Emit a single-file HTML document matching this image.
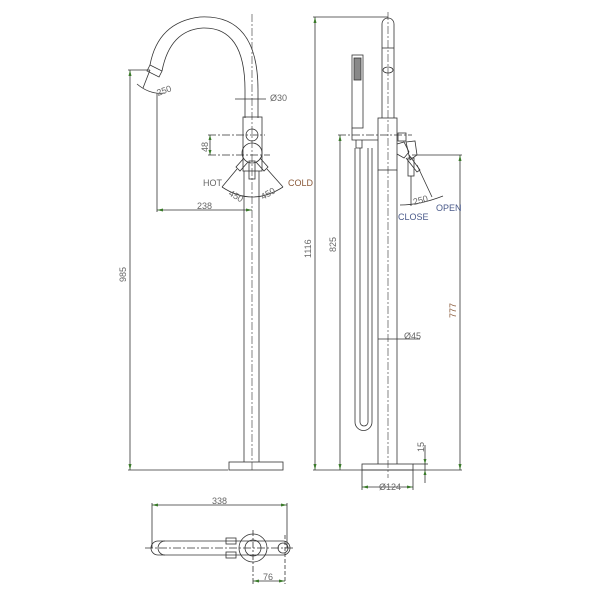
<!DOCTYPE html>
<html><head><meta charset="utf-8"><style>
body{margin:0;background:#fff}
svg{display:block}
text{font-family:"Liberation Sans",sans-serif;font-size:9px;fill:#666}
</style></head><body>
<svg width="600" height="600" viewBox="0 0 600 600" xmlns="http://www.w3.org/2000/svg">
<g fill="none" stroke="#333" stroke-width="0.8">
<!-- LEFT VIEW -->
<path d="M150 65 Q158 22 200 17 Q258 14 258 90 L258 118"/>
<path d="M162 71 Q170 30 203 28 Q245 27 245 90 L245 118"/>
<path d="M150 65 L162 71 L159 77 L147 71 Z"/>
<rect x="243" y="117" width="19" height="54"/>
<line x1="244" y1="171" x2="244" y2="462"/>
<line x1="259" y1="171" x2="259" y2="462"/>
<rect x="229" y="462" width="54" height="8"/>
<circle cx="252" cy="135" r="6"/>
<circle cx="252" cy="153" r="10"/>
<path d="M244 158 L236 167 L240 171 L248 162"/>
<path d="M260 158 L268 167 L264 171 L256 162"/>
<rect x="249" y="161" width="6" height="18"/>
<path d="M222 187 Q252 207 283 187" />
<line x1="222" y1="187" x2="237" y2="169"/>
<line x1="283" y1="187" x2="267" y2="169"/>
<line x1="252" y1="14" x2="252" y2="470" stroke-dasharray="8 2 2 2" stroke-width="0.6"/>
<line x1="208" y1="135" x2="265" y2="135" stroke-dasharray="8 2 2 2"/>
<line x1="208" y1="155" x2="270" y2="155" stroke-dasharray="8 2 2 2"/>
<line x1="210" y1="135" x2="210" y2="155"/>
<line x1="128" y1="70" x2="150" y2="70"/>
<line x1="128" y1="470" x2="228" y2="470"/>
<line x1="130" y1="70" x2="130" y2="470"/>
<path d="M137 84 Q150 95 165 93"/>
<line x1="150" y1="70" x2="143" y2="88"/>
<line x1="157" y1="93" x2="157" y2="212"/>
<line x1="157" y1="210" x2="252" y2="210"/>
<line x1="235" y1="99" x2="266" y2="99"/>
<!-- RIGHT VIEW -->
<path d="M382 118 L382 24 A6 6 0 0 1 394 24 L394 118"/>
<ellipse cx="388" cy="70" rx="5" ry="3"/>
<line x1="382" y1="48" x2="394" y2="48"/>
<rect x="378" y="118" width="19" height="52"/>
<line x1="378" y1="170" x2="378" y2="464"/>
<line x1="397" y1="170" x2="397" y2="464"/>
<rect x="362" y="464" width="51" height="6"/>
<rect x="352" y="55" width="11" height="73"/>
<rect x="354" y="58" width="7" height="22" fill="#888" stroke="#333"/>
<path d="M352 128 L352 140 L378 140 M356 140 L356 148 L362 148 L362 140"/>
<rect x="398" y="133" width="8" height="8"/>
<path d="M397 144 L404 142 L409 152 L404 158 L397 154"/>
<path d="M406 142 L415 141 L417 155 L410 160 Z"/>
<path d="M409 155 L420 170 L417 172 L406 158"/>
<rect x="408" y="158" width="6" height="18"/>
<path d="M355 148 L355 422 A8.5 8.5 0 0 0 372 422 L372 148"/>
<path d="M360 148 L360 422 A4 4 0 0 0 368 422 L368 148"/>
<line x1="388" y1="12" x2="388" y2="478" stroke-dasharray="8 2 2 2" stroke-width="0.6"/>
<line x1="338" y1="135" x2="412" y2="135" stroke-dasharray="8 2 2 2"/>
<line x1="313" y1="17" x2="388" y2="17"/>
<line x1="315" y1="17" x2="315" y2="470"/>
<line x1="313" y1="470" x2="462" y2="470"/>
<line x1="340" y1="135" x2="340" y2="470"/>
<line x1="412" y1="155" x2="462" y2="155"/>
<line x1="460" y1="155" x2="460" y2="470"/>
<line x1="411" y1="176" x2="411" y2="206"/>
<line x1="417" y1="165" x2="432" y2="197"/>
<path d="M400 205 Q420 205 443 196"/>
<line x1="378" y1="339" x2="397" y2="339"/>
<line x1="397" y1="339" x2="420" y2="339"/>
<line x1="425" y1="445" x2="425" y2="483"/>
<line x1="413" y1="464" x2="428" y2="464"/>
<line x1="362" y1="470" x2="362" y2="490"/>
<line x1="413" y1="470" x2="413" y2="490"/>
<line x1="362" y1="487" x2="413" y2="487"/>
<!-- BOTTOM VIEW -->
<path d="M158 541 L283 541 A7 7 0 0 1 283 555 L158 555 A7 7 0 0 1 158 541 Z"/>
<path d="M165 541 A7 7 0 0 0 165 555"/>
<circle cx="253" cy="548" r="14"/>
<circle cx="253" cy="548" r="8"/>
<rect x="226" y="538" width="10" height="6"/>
<rect x="226" y="552" width="10" height="6"/>
<circle cx="283" cy="548" r="5"/>
<line x1="145" y1="548" x2="295" y2="548" stroke-dasharray="8 2 2 2"/>
<line x1="253" y1="530" x2="253" y2="584" stroke-dasharray="6 2 2 2"/>
<line x1="152" y1="505" x2="287" y2="505"/>
<line x1="152" y1="503" x2="152" y2="548"/>
<line x1="287" y1="503" x2="287" y2="548"/>
<line x1="285" y1="535" x2="285" y2="584" stroke-dasharray="4 2"/>
<line x1="253" y1="581" x2="285" y2="581"/>
</g>
<g fill="#3a7a2a">
<path d="M130 70 l-1.5 6 h3z"/><path d="M130 470 l-1.5 -6 h3z"/>
<path d="M157 210 l6 -1.5 v3z"/><path d="M252 210 l-6 -1.5 v3z"/>
<path d="M315 17 l-1.5 6 h3z"/><path d="M315 470 l-1.5 -6 h3z"/>
<path d="M340 135 l-1.5 6 h3z"/><path d="M340 470 l-1.5 -6 h3z"/>
<path d="M460 155 l-1.5 6 h3z"/><path d="M460 470 l-1.5 -6 h3z"/>
<path d="M362 487 l6 -1.5 v3z"/><path d="M413 487 l-6 -1.5 v3z"/>
<path d="M152 505 l6 -1.5 v3z"/><path d="M287 505 l-6 -1.5 v3z"/>
<path d="M253 581 l6 -1.5 v3z"/><path d="M285 581 l-6 -1.5 v3z"/>
<path d="M210 135 l-1.5 5 h3z"/><path d="M210 155 l-1.5 -5 h3z"/>
<path d="M425 464 l-1.5 -5 h3z"/><path d="M425 470 l-1.5 5 h3z"/>
</g>
<text x="0" y="0" transform="translate(126 282) rotate(-90)">985</text>
<text x="0" y="0" transform="translate(158 96) rotate(-20)">250</text>
<text x="197" y="209">238</text>
<text x="270" y="101">Ø30</text>
<text x="0" y="0" transform="translate(208 152) rotate(-90)">48</text>
<text x="203" y="186">HOT</text>
<text x="288" y="186" style="fill:#8a5a3a">COLD</text>
<text x="0" y="0" transform="translate(228 195) rotate(30)">450</text>
<text x="0" y="0" transform="translate(263 200) rotate(-30)">450</text>
<text x="0" y="0" transform="translate(311 258) rotate(-90)">1116</text>
<text x="0" y="0" transform="translate(336 252) rotate(-90)">825</text>
<text x="0" y="0" transform="translate(456 318) rotate(-90)" style="fill:#8a5a3a">777</text>
<text x="0" y="0" transform="translate(414 205) rotate(-15)">250</text>
<text x="436" y="211" style="fill:#4a5a8a">OPEN</text>
<text x="398" y="220" style="fill:#4a5a8a">CLOSE</text>
<text x="404" y="339">Ø45</text>
<text x="0" y="0" transform="translate(424 452) rotate(-90)">15</text>
<text x="379" y="490">Ø124</text>
<text x="212" y="504">338</text>
<text x="263" y="580">76</text>
</svg>
</body></html>
